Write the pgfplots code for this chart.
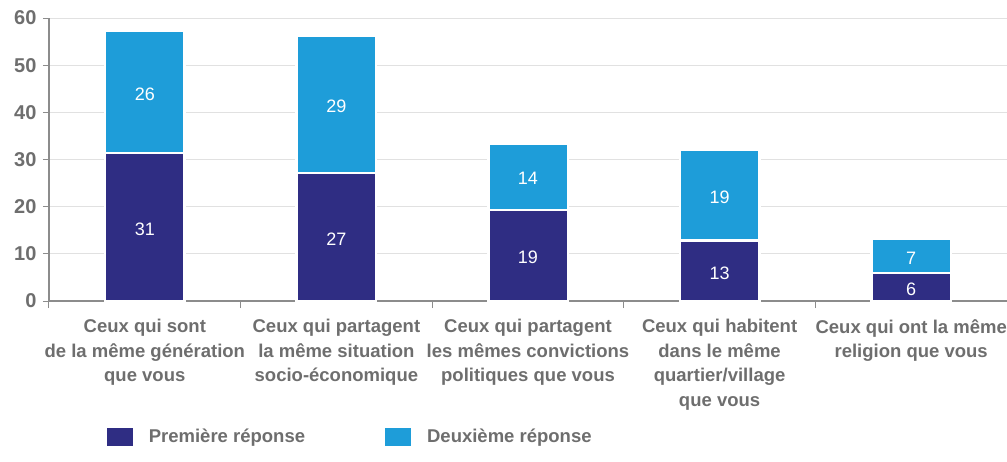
\documentclass[border=0pt]{standalone}
\usepackage{fontspec}
\setmainfont{Liberation Sans}
\usepackage{pgfplots}
\pgfplotsset{compat=1.18}
\definecolor{navy}{RGB}{47,45,131}
\definecolor{sky}{RGB}{30,157,217}
\definecolor{txt}{RGB}{110,110,110}
\definecolor{axc}{RGB}{140,140,140}
\definecolor{grd}{RGB}{225,225,225}
\begin{document}
\begin{tikzpicture}
\useasboundingbox (-49pt,-160pt) rectangle (958pt,301pt);
\begin{axis}[
  at={(0pt,0pt)}, anchor=south west,
  width=958pt, height=283pt, scale only axis,
  ybar stacked, bar width=79.5pt,
  xmin=-0.5, xmax=4.5, ymin=0, ymax=60,
  axis lines=left, axis line style={-, draw=axc, line width=1.2pt},
  ytick={0,10,...,60}, ymajorgrids, grid style={grd, line width=0.8pt},
  xtick={0,...,4},
  xticklabels={{Ceux qui sont\\de la même génération\\que vous},
               {Ceux qui partagent\\la même situation\\socio-économique},
               {Ceux qui partagent\\les mêmes convictions\\politiques que vous},
               {Ceux qui habitent\\dans le même\\quartier/village\\que vous},
               {Ceux qui ont la même\\religion que vous}},
  minor xtick={-0.5,0.5,1.5,2.5,3.5},
  tick align=outside,
  tick style={axc, line width=1pt},
  major tick length=6pt, minor tick length=7pt,
  every major x tick/.style={draw=none},
  /pgf/number format/assume math mode=true,
  xticklabel style={align=center, text=txt, yshift=-9pt,
     font=\bfseries\fontsize{18.5}{24.5}\selectfont},
  yticklabel style={text=txt, xshift=-3pt, font=\bfseries\fontsize{20}{24}\selectfont},
  nodes near coords, point meta=explicit,
  every node near coord/.append style={anchor=center, text=white,
     font=\fontsize{18}{20}\selectfont, yshift=-2pt},
  legend style={at={(axis description cs:0.057,-0.48)}, anchor=west, draw=none,
     font=\bfseries\fontsize{18.5}{22}\selectfont, text=txt,
     legend columns=2,
     /tikz/every odd column/.append style={column sep=14pt},
     /tikz/every even column/.append style={column sep=78pt}},
  legend image code/.code={\path[#1, draw=none] (0pt,-9pt) rectangle (26pt,9pt);},
]
\addplot[fill=navy, draw=white, line width=2.5pt] coordinates {(0,31.4) [31] (1,27.1) [27] (2,19.3) [19] (3,12.8) [13] (4,5.9) [6]};
\addplot[fill=sky, draw=white, line width=2.5pt] coordinates {(0,25.9) [26] (1,29.1) [29] (2,14.1) [14] (3,19.3) [19] (4,7.2) [7]};
\legend{Première réponse, Deuxième réponse}
\end{axis}
\end{tikzpicture}
\end{document}
